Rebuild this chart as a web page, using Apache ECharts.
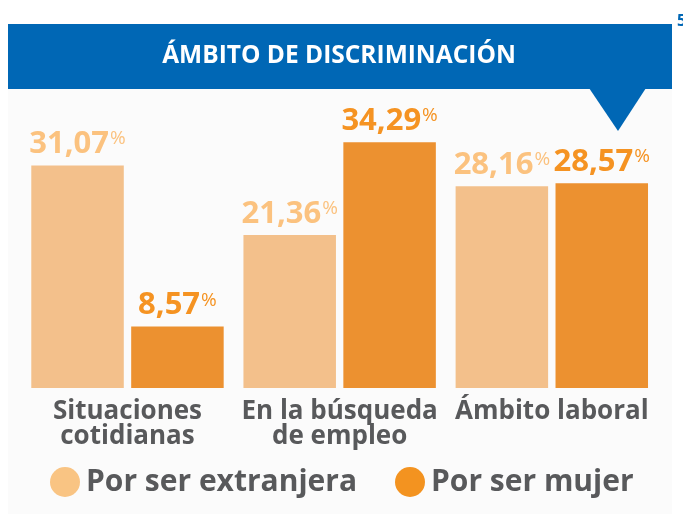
<!DOCTYPE html>
<html>
<head>
<meta charset="utf-8">
<script src="https://cdn.jsdelivr.net/npm/echarts@6/dist/echarts.min.js"></script>
<style>
  html, body { margin: 0; padding: 0; background: #ffffff; }
  #chart { width: 683px; height: 514px; }
</style>
</head>
<body>
<div id="chart"></div>
<script>
// Categories and values (percent)
const categories = ['Situaciones\ncotidianas', 'En la búsqueda\nde empleo', 'Ámbito laboral'];
const seriesNames = ['Por ser extranjera', 'Por ser mujer'];
const extranjera = [31.07, 21.36, 28.16];
const mujer = [8.57, 34.29, 28.57];

const FONT = '"Open Sans", "Noto Sans", sans-serif';
const GRAY = '#58595b';
const BLUE = '#0067b5';
const LIGHT_BAR = '#f3c08b';
const DARK_BAR = '#ec9130';
const LIGHT_TXT = '#fbc27f';
const DARK_TXT = '#f59322';

function fmt(v) { return v.toFixed(2).replace('.', ','); }

function valueLabel(color) {
  return {
    show: true,
    position: 'top',
    distance: 6,
    formatter: p => '{v|' + fmt(p.value) + '}{p|%}',
    rich: {
      v: { fontFamily: FONT, fontWeight: 700, fontSize: 31, lineHeight: 30, color: color },
      p: { fontFamily: FONT, fontWeight: 400, fontSize: 19, lineHeight: 19, color: color,
           verticalAlign: 'top', padding: [0, 0, 0, 1] }
    }
  };
}

function legendItem(left, name, color) {
  return {
    left: left, top: 467, padding: 0, itemWidth: 30, itemHeight: 30, icon: 'circle',
    selectedMode: false,
    data: [{ name: name, itemStyle: { color: color } }],
    textStyle: { fontFamily: FONT, fontWeight: 700, fontSize: 30, color: GRAY, padding: [0, 0, 0, 1] }
  };
}

const chart = echarts.init(document.getElementById('chart'), null, { renderer: 'canvas' });

chart.setOption({
  animation: false,
  backgroundColor: '#ffffff',
  graphic: [
    { type: 'rect', z: -10, shape: { x: 8, y: 24, width: 664, height: 490 }, style: { fill: '#fbfbfb' } },
    { type: 'rect', shape: { x: 8, y: 24, width: 664, height: 65 }, style: { fill: BLUE } },
    { type: 'polygon', shape: { points: [[589, 88], [646, 88], [618, 131]] }, style: { fill: BLUE } },
    { type: 'text', x: 339, y: 56,
      style: { text: 'ÁMBITO DE DISCRIMINACIÓN', fill: '#ffffff', font: '700 24.5px ' + FONT,
               textAlign: 'center', textVerticalAlign: 'middle' } },
    { type: 'text', x: 677, y: 21,
      style: { text: '5', fill: BLUE, font: '700 16px ' + FONT, textAlign: 'left', textVerticalAlign: 'middle' } }
  ],
  legend: [
    legendItem(50, seriesNames[0], '#f9c483'),
    legendItem(395, seriesNames[1], '#f39320')
  ],
  grid: { left: 21.4, right: 25.1, top: 101.4, bottom: 126, containLabel: false },
  xAxis: {
    type: 'category',
    data: categories,
    axisLine: { show: false },
    axisTick: { show: false },
    axisLabel: {
      interval: 0, margin: 11, fontFamily: FONT, fontWeight: 700, fontSize: 26,
      lineHeight: 25, color: GRAY
    }
  },
  yAxis: { type: 'value', min: 0, max: 40, show: false, splitLine: { show: false } },
  series: [
    {
      name: seriesNames[0], type: 'bar', data: extranjera, barWidth: 92.5, barGap: '8%',
      itemStyle: { color: LIGHT_BAR }, label: valueLabel(LIGHT_TXT)
    },
    {
      name: seriesNames[1], type: 'bar', data: mujer, barWidth: 92.5, barGap: '8%',
      itemStyle: { color: DARK_BAR }, label: valueLabel(DARK_TXT)
    }
  ]
});
</script>
</body>
</html>
